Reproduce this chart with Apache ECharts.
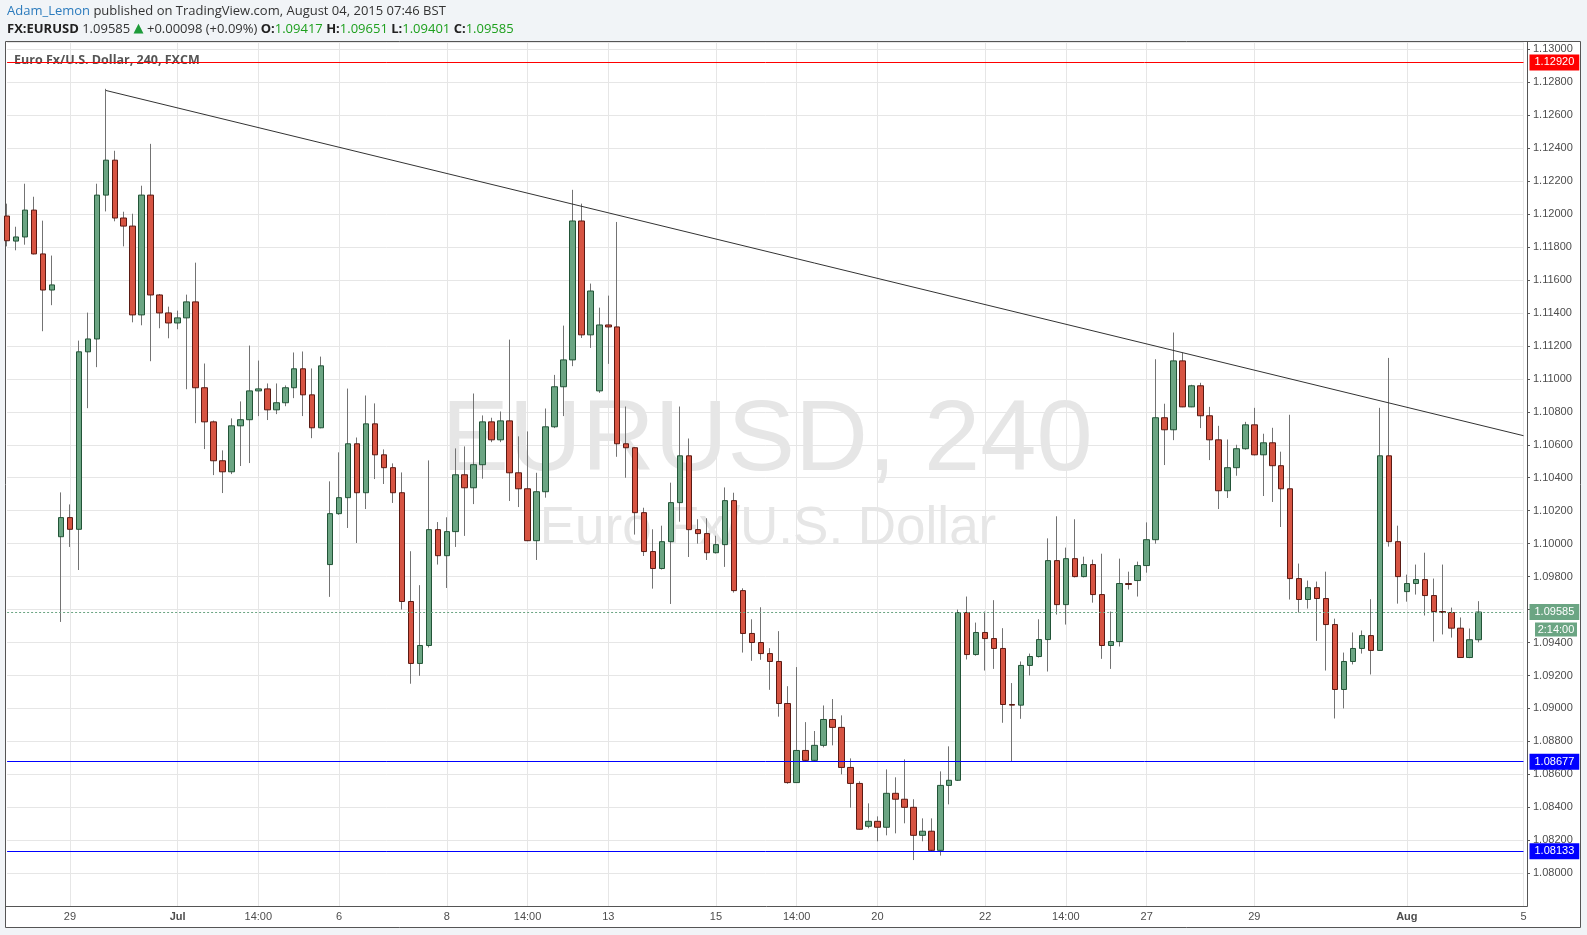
<!DOCTYPE html>
<html><head><meta charset="utf-8">
<script src="https://cdn.jsdelivr.net/npm/echarts@6/dist/echarts.min.js"></script>
<style>html,body{margin:0;padding:0;background:#f1f4f7;}#c{width:1587px;height:935px;}</style>
</head><body><div id="c"></div><script>
// ---- bar sessions (4h, BST) ----
const H6 = [2, 6, 10, 14, 18, 22];
const H5 = [2, 6, 10, 14, 18];
const sessionDays = [
  ['2015-06-25', [22]], ['2015-06-26', H5],
  ['2015-06-28', [22]], ['2015-06-29', H6], ['2015-06-30', H6], ['2015-07-01', H6], ['2015-07-02', H6], ['2015-07-03', H5],
  ['2015-07-05', [22]], ['2015-07-06', H6], ['2015-07-07', H6], ['2015-07-08', H6], ['2015-07-09', H6], ['2015-07-10', H5],
  ['2015-07-12', [22]], ['2015-07-13', H6], ['2015-07-14', H6], ['2015-07-15', H6], ['2015-07-16', H6], ['2015-07-17', H5],
  ['2015-07-19', [22]], ['2015-07-20', H6], ['2015-07-21', H6], ['2015-07-22', H6], ['2015-07-23', H6], ['2015-07-24', H5],
  ['2015-07-26', [22]], ['2015-07-27', H6], ['2015-07-28', H6], ['2015-07-29', H6], ['2015-07-30', H6], ['2015-07-31', H5],
  ['2015-08-02', [22]], ['2015-08-03', H6], ['2015-08-04', H6], ['2015-08-05', [2]]
];
const categories = [];
sessionDays.forEach(([d, hs]) => hs.forEach(h => categories.push(d + ' ' + String(h).padStart(2, '0') + ':00')));

const timeTicks = [
  ['2015-06-29 02:00', '29'], ['2015-07-01 02:00', 'Jul'], ['2015-07-02 14:00', '14:00'], ['2015-07-06 02:00', '6'],
  ['2015-07-08 02:00', '8'], ['2015-07-09 14:00', '14:00'], ['2015-07-13 02:00', '13'], ['2015-07-15 02:00', '15'],
  ['2015-07-16 14:00', '14:00'], ['2015-07-20 02:00', '20'], ['2015-07-22 02:00', '22'], ['2015-07-23 14:00', '14:00'],
  ['2015-07-27 02:00', '27'], ['2015-07-29 02:00', '29'], ['2015-08-02 22:00', 'Aug'], ['2015-08-05 02:00', '5']
];
const monthLabels = ['Jul', 'Aug'];

// ---- OHLC ----
const opens = [
1.11988,1.11836,1.11861,1.12024,1.11758,1.11539,1.10042,1.10158,1.10087,1.11164,
1.11242,1.12115,1.12327,1.11976,1.11927,1.11388,1.12115,1.11509,1.11400,1.11339,
1.11370,1.11467,1.10946,1.10739,1.10503,1.10436,1.10715,1.10752,1.10927,1.10939,
1.10812,1.10855,1.10946,1.11061,1.10903,1.10703,1.09873,1.10182,1.10279,1.10606,
1.10309,1.10727,1.10539,1.10461,1.10309,1.09649,1.09273,1.09382,1.10085,1.09927,
1.10073,1.10418,1.10339,1.10479,1.10739,1.10630,1.10745,1.10430,1.10333,1.10018,
1.10315,1.10709,1.10952,1.11115,1.11958,1.11267,1.10927,1.11327,1.11315,1.10606,
1.10582,1.10188,1.09952,1.09849,1.10012,1.10249,1.10533,1.10085,1.10061,1.09945,
1.09994,1.10261,1.09715,1.09455,1.09400,1.09333,1.09285,1.09030,1.08550,1.08745,
1.08685,1.08776,1.08933,1.08885,1.08642,1.08545,1.08285,1.08315,1.08279,1.08485,
1.08449,1.08400,1.08230,1.08255,1.08139,1.08533,1.08564,1.09582,1.09327,1.09461,
1.09424,1.09364,1.09024,1.09020,1.09261,1.09315,1.09418,1.09897,1.09630,1.09909,
1.09800,1.09873,1.09691,1.09382,1.09406,1.09758,1.09776,1.09867,1.10024,1.10764,
1.10691,1.11109,1.10830,1.10958,1.10776,1.10630,1.10321,1.10461,1.10576,1.10721,
1.10539,1.10612,1.10473,1.10333,1.09788,1.09661,1.09733,1.09667,1.09509,1.09115,
1.09285,1.09364,1.09442,1.09352,1.10533,1.10012,1.09709,1.09758,1.09782,1.09685,
1.09588,1.09582,1.09487,1.09309,1.09417];
const highs = [
1.12063,1.11923,1.12184,1.12105,1.11960,1.11748,1.10311,1.10238,1.11232,1.11402,
1.12184,1.12760,1.12384,1.12014,1.12002,1.12172,1.12426,1.11515,1.11438,1.11414,
1.11511,1.11705,1.11093,1.10747,1.10566,1.10760,1.10863,1.11202,1.11111,1.10972,
1.10972,1.10960,1.11160,1.11166,1.11063,1.11135,1.10378,1.10554,1.10941,1.10644,
1.10899,1.10851,1.10572,1.10487,1.10432,1.09954,1.09748,1.10505,1.10131,1.10160,
1.10578,1.10590,1.10911,1.10778,1.10764,1.10802,1.11238,1.10651,1.10681,1.10430,
1.10820,1.11024,1.11323,1.12147,1.12063,1.11578,1.11432,1.11505,1.11952,1.10832,
1.10585,1.10218,1.10087,1.10109,1.10370,1.10832,1.10638,1.10148,1.10154,1.10048,
1.10341,1.10309,1.09729,1.09541,1.09614,1.09366,1.09469,1.09135,1.09251,1.08917,
1.08863,1.09018,1.09057,1.08958,1.08697,1.08558,1.08424,1.08345,1.08630,1.08582,
1.08691,1.08449,1.08333,1.08333,1.08618,1.08770,1.09600,1.09679,1.09521,1.09588,
1.09657,1.09487,1.09154,1.09285,1.09333,1.09541,1.10032,1.10166,1.09976,1.10148,
1.09921,1.09903,1.09939,1.09588,1.09909,1.09830,1.09891,1.10129,1.11119,1.10849,
1.11281,1.11158,1.10964,1.10976,1.10830,1.10715,1.10632,1.10600,1.10739,1.10824,
1.10667,1.10703,1.10558,1.10782,1.09879,1.09776,1.09770,1.09830,1.09545,1.09339,
1.09461,1.09473,1.09663,1.10824,1.11127,1.10109,1.09812,1.09873,1.09945,1.09788,
1.09873,1.09612,1.09552,1.09485,1.09651];
const lows = [
1.11804,1.11780,1.11814,1.11755,1.11289,1.11447,1.09525,1.09980,1.09840,1.10822,
1.11071,1.12016,1.11956,1.11804,1.11343,1.11325,1.11107,1.11307,1.11246,1.11301,
1.10937,1.10731,1.10574,1.10416,1.10307,1.10422,1.10471,1.10489,1.10774,1.10750,
1.10786,1.10834,1.10883,1.10774,1.10640,1.10700,1.09677,1.10175,1.10095,1.10004,
1.10210,1.10392,1.10362,1.10247,1.09600,1.09150,1.09198,1.09370,1.09873,1.09731,
1.09980,1.10047,1.10240,1.10394,1.10616,1.10616,1.10259,1.10222,1.10015,1.09901,
1.10279,1.10701,1.10774,1.11077,1.11248,1.11188,1.10915,1.11091,1.10527,1.10400,
1.10055,1.09925,1.09727,1.09843,1.09634,1.10133,1.09919,1.10000,1.09901,1.09940,
1.09859,1.09703,1.09339,1.09289,1.09295,1.09113,1.08950,1.08543,1.08548,1.08679,
1.08679,1.08764,1.08776,1.08600,1.08398,1.08265,1.08273,1.08194,1.08230,1.08242,
1.08303,1.08080,1.08194,1.08133,1.08107,1.08418,1.08560,1.09297,1.09320,1.09230,
1.09240,1.08913,1.08677,1.08937,1.09200,1.09309,1.09224,1.09570,1.09509,1.09795,
1.09795,1.09642,1.09301,1.09240,1.09376,1.09721,1.09679,1.09824,1.10000,1.10477,
1.10628,1.10828,1.10828,1.10701,1.10507,1.10210,1.10277,1.10412,1.10570,1.10535,
1.10289,1.10253,1.10101,1.09661,1.09582,1.09606,1.09410,1.09230,1.08939,1.09000,
1.09267,1.09333,1.09206,1.09350,1.09982,1.09636,1.09648,1.09691,1.09564,1.09406,
1.09449,1.09430,1.09309,1.09305,1.09401];
const closes = [
1.11838,1.11861,1.12024,1.11758,1.11539,1.11570,1.10158,1.10087,1.11164,1.11242,
1.12115,1.12327,1.11976,1.11927,1.11388,1.12115,1.11509,1.11400,1.11339,1.11370,
1.11467,1.10946,1.10739,1.10503,1.10436,1.10715,1.10752,1.10927,1.10939,1.10812,
1.10855,1.10946,1.11061,1.10903,1.10703,1.11079,1.10182,1.10279,1.10606,1.10309,
1.10727,1.10539,1.10461,1.10309,1.09649,1.09273,1.09382,1.10085,1.09927,1.10073,
1.10418,1.10339,1.10479,1.10739,1.10630,1.10745,1.10430,1.10333,1.10018,1.10315,
1.10709,1.10952,1.11115,1.11958,1.11267,1.11533,1.11327,1.11315,1.10606,1.10582,
1.10188,1.09952,1.09849,1.10012,1.10249,1.10533,1.10085,1.10061,1.09945,1.09994,
1.10261,1.09715,1.09455,1.09400,1.09333,1.09285,1.09030,1.08550,1.08745,1.08685,
1.08776,1.08933,1.08885,1.08642,1.08545,1.08267,1.08315,1.08279,1.08485,1.08449,
1.08400,1.08230,1.08255,1.08139,1.08533,1.08564,1.09582,1.09327,1.09461,1.09424,
1.09364,1.09024,1.09020,1.09261,1.09315,1.09418,1.09897,1.09630,1.09909,1.09800,
1.09873,1.09691,1.09382,1.09406,1.09758,1.09752,1.09867,1.10024,1.10764,1.10691,
1.11109,1.10830,1.10958,1.10776,1.10630,1.10321,1.10461,1.10576,1.10721,1.10539,
1.10612,1.10473,1.10333,1.09788,1.09661,1.09733,1.09667,1.09509,1.09115,1.09285,
1.09364,1.09442,1.09352,1.10533,1.10012,1.09800,1.09758,1.09782,1.09685,1.09588,
1.09582,1.09487,1.09309,1.09417,1.09585];

// horizontal levels and trend line
const resistanceLevels = [1.12920];
const supportLevels = [1.08677, 1.08133];
const trendLine = [['2015-06-29 18:00', 1.12750], ['2015-08-05 02:00', 1.10655]];
const priceTicks = { min: 1.078, max: 1.13044, step: 0.002 };

// ---- chart ----
const FONT = '"Liberation Sans", Arial, sans-serif';
const UP = '#6ba583', DOWN = '#d75442';
const tickMap = new Map(timeTicks.map(([c, l]) => [categories.indexOf(c), l]));
const lastClose = closes[closes.length - 1];

const chart = echarts.init(document.getElementById('c'), null, { renderer: 'canvas', width: 1587, height: 935 });

const wickData = highs.map((h, i) => [lows[i], h, lows[i], h]);
const bodyData = opens.map((o, i) => [o, closes[i], Math.min(o, closes[i]), Math.max(o, closes[i])]);

function boxLabel(bg) {
  return {
    show: true, position: 'end', distance: 6,
    formatter: p => Number(p.value).toFixed(5),
    backgroundColor: bg, color: '#fff', fontFamily: FONT, fontSize: 11,
    padding: [2, 5, 1, 5], lineHeight: 13
  };
}

const option = {
  backgroundColor: '#f1f4f7',
  animation: false,
  grid: { left: 7.1, top: 42, width: 1516.4, height: 864.2, outerBoundsMode: 'none', containLabel: false },
  xAxis: {
    type: 'category', data: categories, boundaryGap: false,
    axisLine: { show: false }, axisTick: { show: false },
    axisLabel: {
      interval: i => tickMap.has(i), margin: 5, color: '#4d4d4d', fontFamily: FONT, fontSize: 11,
      formatter: (v, i) => { const l = tickMap.get(i); return monthLabels.includes(l) ? '{b|' + l + '}' : l; },
      rich: { b: { fontWeight: 'bold', color: '#4d4d4d', fontFamily: FONT, fontSize: 11 } }
    },
    splitLine: { show: true, interval: i => tickMap.has(i), lineStyle: { color: '#e6e6e6', width: 1 } }
  },
  yAxis: {
    type: 'value', position: 'right', offset: 3.5, scale: true,
    min: priceTicks.min, max: priceTicks.max, interval: priceTicks.step,
    axisLine: { show: true, lineStyle: { color: '#555', width: 1 } },
    axisTick: { show: true, length: 3, lineStyle: { color: '#555' } },
    axisLabel: { margin: 6, color: '#4d4d4d', fontFamily: FONT, fontSize: 11, showMinLabel: false, showMaxLabel: false,
      formatter: v => v.toFixed(5) },
    splitLine: { show: true, lineStyle: { color: '#e6e6e6', width: 1 } }
  },
  graphic: [
    { id: 'frame', type: 'rect', z: -10, shape: { x: 5.5, y: 41.5, width: 1575, height: 886 },
      style: { fill: '#ffffff', stroke: '#555555', lineWidth: 1 } },
    { id: 'wm1', type: 'text', z: -5, x: 767, y: 442,
      style: { text: 'EURUSD, 240', font: '101px ' + FONT, fill: '#e6e6e6', align: 'center', verticalAlign: 'middle', textAlign: 'center', textVerticalAlign: 'middle' } },
    { id: 'wm2', type: 'text', z: -5, x: 768, y: 529,
      style: { text: 'Euro Fx/U.S. Dollar', font: '53px ' + FONT, fill: '#e6e6e6', align: 'center', verticalAlign: 'middle', textAlign: 'center', textVerticalAlign: 'middle' } },
    { id: 'xline', type: 'line', z: 5, shape: { x1: 5.5, y1: 906.5, x2: 1527.5, y2: 906.5 }, style: { stroke: '#555555', lineWidth: 1 } },
    { id: 'legend', type: 'text', z: 5, x: 14, y: 60,
      style: { text: 'Euro Fx/U.S. Dollar, 240, FXCM', font: 'bold 12.5px "Open Sans", sans-serif', fill: '#555555', verticalAlign: 'middle', textVerticalAlign: 'middle' } },
    { id: 'hdr1', type: 'text', x: 7, y: 11,
      style: { text: '{a|Adam_Lemon}{b| published on TradingView.com, August 04, 2015 07:46 BST}',
        verticalAlign: 'middle', textVerticalAlign: 'middle',
        rich: { a: { fill: '#2b7bbd', fontSize: 13, fontFamily: '"Open Sans", sans-serif' },
                b: { fill: '#333333', fontSize: 13, fontFamily: '"Open Sans", sans-serif' } } } },
    { id: 'hdr2', type: 'text', x: 7, y: 29,
      style: { text: '{k|FX:EURUSD} {n|1.09585} {g|▲} {n|+0.00098 (+0.09%)} {k|O:}{v|1.09417} {k|H:}{v|1.09651} {k|L:}{v|1.09401} {k|C:}{v|1.09585}',
        verticalAlign: 'middle', textVerticalAlign: 'middle', font: '13px "Open Sans", sans-serif', fill: '#333',
        rich: { k: { fill: '#222222', fontSize: 13, fontWeight: 'bold', fontFamily: '"Open Sans", sans-serif' },
                n: { fill: '#333333', fontSize: 13, fontFamily: '"Open Sans", sans-serif' },
                g: { fill: '#1e9b3a', fontSize: 13, fontFamily: '"DejaVu Sans", sans-serif' },
                v: { fill: '#1ea01e', fontSize: 13, fontFamily: '"Open Sans", sans-serif' } } } }
  ],
  series: [
    { name: 'wicks', type: 'candlestick', data: wickData, barWidth: 1, silent: true, clip: true, z: 2,
      itemStyle: { color: '#737373', color0: '#737373', borderColor: '#737373', borderColor0: '#737373', borderWidth: 1 } },
    { name: 'EURUSD', type: 'candlestick', data: bodyData, barWidth: 6, silent: true, clip: true, z: 3,
      itemStyle: { color: UP, color0: DOWN, borderColor: '#225437', borderColor0: '#5b1a13', borderWidth: 1 } },
    { name: 'levels', type: 'line', data: [], silent: true, clip: false, z: 4,
      markLine: {
        symbol: ['none', 'none'], silent: true, animation: false, precision: 5,
        data: [
          ...resistanceLevels.map(v => ({ yAxis: v, lineStyle: { color: '#ff0000', width: 1, type: 'solid' }, label: boxLabel('#ff0000') })),
          ...supportLevels.map(v => ({ yAxis: v, lineStyle: { color: '#0000ff', width: 1, type: 'solid' }, label: boxLabel('#0000ff') })),
          { yAxis: lastClose, lineStyle: { color: UP, width: 1, type: [2, 2] }, label: boxLabel(UP) },
          [ { coord: [categories.indexOf(trendLine[0][0]), trendLine[0][1]], lineStyle: { color: '#333333', width: 1, type: 'solid' }, label: { show: false } },
            { coord: [categories.indexOf(trendLine[1][0]), trendLine[1][1]] } ]
        ]
      } }
  ]
};
chart.setOption(option);

// countdown box under the last-price label
const py = chart.convertToPixel({ yAxisIndex: 0 }, lastClose);
chart.setOption({ graphic: [
  { id: 'cdRect', type: 'rect', z: 10, shape: { x: 1535, y: py + 10.5, width: 42, height: 14 }, style: { fill: UP } },
  { id: 'cdText', type: 'text', z: 11, x: 1556, y: py + 17.5,
    style: { text: '2:14:00', font: '11px ' + FONT, fill: '#ffffff', align: 'center', verticalAlign: 'middle', textAlign: 'center', textVerticalAlign: 'middle' } }
] });
</script></body></html>
